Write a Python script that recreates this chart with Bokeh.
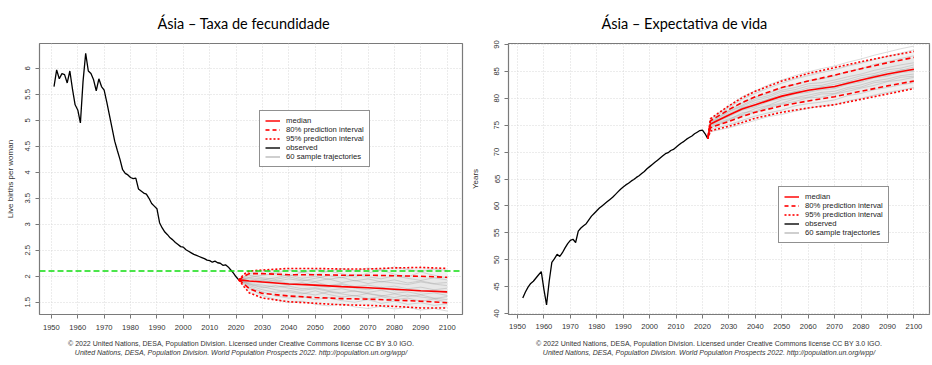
from bokeh.plotting import figure
from bokeh.models import (Range1d, FixedTicker, NumeralTickFormatter, Title,
                          Legend, LegendItem, Span, Div)
from bokeh.layouts import row, column
from bokeh.embed import file_html
from bokeh.resources import INLINE

NAN = float("nan")

# ---------------- data: left panel (fertility) ----------------
tfr_years = list(range(1951, 2022))
tfr_obs = [5.65, 5.97, 5.80, 5.90, 5.88, 5.72, 5.95, 5.60, 5.30, 5.20,
           4.95, 5.75, 6.29, 5.95, 5.90, 5.78, 5.57, 5.80, 5.65, 5.58,
           5.35, 5.10, 4.85, 4.60, 4.42, 4.25, 4.05, 3.98, 3.95, 3.90,
           3.88, 3.89, 3.68, 3.64, 3.60, 3.58, 3.50, 3.40, 3.35, 3.30,
           3.03, 2.93, 2.85, 2.80, 2.74, 2.70, 2.65, 2.61, 2.57, 2.56,
           2.51, 2.48, 2.45, 2.42, 2.40, 2.38, 2.36, 2.34, 2.31, 2.30,
           2.27, 2.29, 2.26, 2.25, 2.21, 2.22, 2.18, 2.12, 2.06, 1.99,
           1.93]
tfr_proj_years = [2021, 2023, 2025, 2030, 2040, 2050, 2060, 2070, 2080, 2090, 2100]
tfr_median = [1.93, 1.92, 1.91, 1.89, 1.85, 1.83, 1.80, 1.78, 1.75, 1.72, 1.70]
tfr_u80 = [1.93, 2.00, 2.05, 2.05, 2.03, 2.03, 2.02, 2.02, 2.01, 2.00, 1.98]
tfr_l80 = [1.93, 1.85, 1.76, 1.67, 1.62, 1.59, 1.57, 1.56, 1.54, 1.52, 1.49]
tfr_u95 = [1.93, 2.04, 2.10, 2.12, 2.15, 2.15, 2.14, 2.14, 2.16, 2.17, 2.15]
tfr_l95 = [1.93, 1.80, 1.68, 1.58, 1.51, 1.48, 1.45, 1.44, 1.42, 1.39, 1.39]
tfr_replacement = 2.1
tfr_traj_years = [2021, 2025, 2030, 2035, 2040, 2045, 2050, 2055, 2060,
                  2065, 2070, 2075, 2080, 2085, 2090, 2095, 2100]
tfr_traj = [
    [1.93, 1.98, 2.02, 2.05, 2.00, 2.08, 2.03, 2.10, 2.05, 1.98, 2.06, 2.12, 2.04, 1.99, 2.08, 2.02, 1.97],
    [1.93, 1.85, 1.80, 1.74, 1.70, 1.66, 1.72, 1.65, 1.60, 1.63, 1.57, 1.61, 1.55, 1.58, 1.52, 1.56, 1.50],
    [1.93, 1.90, 1.88, 1.92, 1.86, 1.84, 1.89, 1.82, 1.86, 1.80, 1.83, 1.78, 1.81, 1.76, 1.79, 1.74, 1.77],
    [1.93, 2.02, 1.97, 1.94, 1.99, 1.93, 1.90, 1.95, 1.88, 1.92, 1.86, 1.90, 1.87, 1.84, 1.89, 1.85, 1.82],
    [1.93, 1.82, 1.74, 1.69, 1.73, 1.68, 1.64, 1.70, 1.66, 1.62, 1.67, 1.63, 1.59, 1.64, 1.60, 1.57, 1.61],
    [1.93, 1.95, 1.92, 1.87, 1.83, 1.88, 1.81, 1.79, 1.84, 1.77, 1.74, 1.79, 1.72, 1.75, 1.70, 1.73, 1.68],
    [1.93, 1.88, 1.93, 1.97, 2.03, 1.96, 2.00, 1.94, 1.98, 1.91, 1.95, 1.89, 1.93, 1.87, 1.91, 1.86, 1.88],
    [1.93, 1.79, 1.70, 1.62, 1.58, 1.61, 1.55, 1.59, 1.53, 1.50, 1.55, 1.48, 1.52, 1.46, 1.49, 1.44, 1.47],
    [1.93, 1.97, 1.95, 1.90, 1.95, 1.91, 1.96, 2.01, 1.97, 2.03, 1.99, 1.95, 2.01, 1.96, 1.92, 1.97, 1.93],
    [1.93, 1.86, 1.83, 1.79, 1.81, 1.76, 1.78, 1.73, 1.76, 1.71, 1.69, 1.73, 1.67, 1.70, 1.65, 1.68, 1.63],
    [1.93, 2.05, 2.10, 2.06, 2.12, 2.07, 2.13, 2.09, 2.15, 2.10, 2.16, 2.12, 2.18, 2.13, 2.09, 2.14, 2.11],
    [1.93, 1.84, 1.78, 1.82, 1.77, 1.73, 1.76, 1.71, 1.68, 1.72, 1.66, 1.62, 1.66, 1.61, 1.64, 1.58, 1.55],
    [1.93, 1.76, 1.63, 1.55, 1.49, 1.52, 1.46, 1.43, 1.47, 1.41, 1.38, 1.42, 1.37, 1.40, 1.35, 1.38, 1.33],
]

# ---------------- data: right panel (life expectancy) ----------------
e0_years = list(range(1952, 2023))
e0_obs = [42.9, 44.0, 44.9, 45.6, 46.0, 46.6, 47.2, 47.8, 44.5, 41.6,   # 1952-1961
          46.0, 49.5, 50.2, 51.0, 50.6, 51.3, 52.2, 53.0, 53.6, 53.8,   # 1962-1971
          53.2, 55.3, 55.9, 56.3, 56.7, 57.4, 58.1, 58.6, 59.1, 59.6,   # 1972-1981
          60.0, 60.4, 60.8, 61.2, 61.6, 62.1, 62.6, 63.1, 63.5, 63.9,   # 1982-1991
          64.2, 64.6, 64.9, 65.3, 65.6, 66.0, 66.4, 66.9, 67.3, 67.7,   # 1992-2001
          68.1, 68.5, 68.9, 69.3, 69.7, 69.9, 70.3, 70.5, 70.9, 71.3,   # 2002-2011
          71.7, 72.0, 72.4, 72.7, 73.0, 73.4, 73.7, 74.0, 74.1, 73.4,   # 2012-2021
          72.5]                                                          # 2022
e0_proj_years = [2022, 2023, 2025, 2030, 2035, 2040, 2050, 2060, 2070, 2080, 2090, 2100]
e0_median = [72.5, 75.2, 75.7, 76.9, 78.0, 78.8, 80.4, 81.5, 82.2, 83.4, 84.5, 85.4]
e0_u80 = [72.5, 75.8, 76.4, 77.9, 79.2, 80.3, 82.0, 83.2, 84.3, 85.5, 86.6, 87.6]
e0_l80 = [72.5, 74.5, 74.9, 75.7, 76.6, 77.4, 78.6, 79.5, 80.3, 81.3, 82.3, 83.2]
e0_u95 = [72.5, 76.2, 76.9, 78.6, 80.1, 81.3, 83.2, 84.6, 85.7, 86.8, 87.8, 88.7]
e0_l95 = [72.5, 73.9, 74.2, 74.8, 75.5, 76.3, 77.4, 78.2, 78.8, 79.8, 80.8, 81.8]
e0_traj_years = [2022, 2023, 2025, 2030, 2035, 2040, 2045, 2050, 2055, 2060,
                 2065, 2070, 2075, 2080, 2085, 2090, 2095, 2100]
e0_traj = [
    [72.5, 75.6, 76.3, 77.8, 79.1, 80.2, 80.9, 81.9, 82.6, 83.3, 83.6, 84.2, 85.0, 85.5, 86.3, 86.8, 87.4, 87.9],
    [72.5, 74.6, 74.9, 75.9, 76.8, 77.4, 78.3, 78.9, 79.4, 80.1, 80.2, 80.8, 81.3, 81.9, 82.4, 83.1, 83.4, 83.9],
    [72.5, 75.1, 75.9, 76.7, 78.3, 78.6, 79.9, 80.2, 81.3, 81.2, 82.1, 82.0, 83.0, 83.2, 84.3, 84.2, 85.3, 85.2],
    [72.5, 75.4, 76.0, 77.5, 78.5, 79.6, 80.2, 81.2, 81.6, 82.3, 82.4, 83.0, 83.5, 84.2, 84.6, 85.3, 85.6, 86.2],
    [72.5, 74.9, 75.3, 76.2, 77.0, 78.1, 78.7, 79.7, 80.1, 80.6, 81.1, 81.3, 82.0, 82.5, 83.2, 83.6, 84.2, 84.5],
    [72.5, 75.9, 76.6, 78.3, 79.8, 80.9, 81.9, 82.8, 83.6, 84.2, 84.8, 85.3, 86.0, 86.5, 87.2, 87.8, 88.4, 89.0],
    [72.5, 74.2, 74.5, 75.1, 75.9, 76.7, 77.3, 77.8, 78.6, 79.0, 79.3, 79.7, 80.5, 80.9, 81.6, 82.0, 82.5, 82.9],
    [72.5, 75.3, 75.8, 77.2, 78.2, 79.2, 79.8, 80.8, 81.2, 81.9, 82.1, 82.6, 83.1, 83.8, 84.2, 84.9, 85.2, 85.8],
    [72.5, 75.0, 75.5, 76.6, 77.8, 78.4, 79.4, 80.0, 80.8, 81.1, 81.6, 81.8, 82.6, 83.0, 83.8, 84.1, 84.8, 85.0],
    [72.5, 75.5, 76.1, 77.6, 78.7, 79.9, 80.5, 81.5, 82.0, 82.7, 82.9, 83.4, 84.0, 84.5, 85.2, 85.7, 86.2, 86.6],
    [72.5, 74.8, 75.1, 76.0, 77.3, 77.6, 78.6, 79.1, 79.9, 80.2, 80.8, 80.9, 81.7, 82.1, 82.9, 83.2, 83.9, 84.1],
    [72.5, 73.8, 74.0, 74.5, 75.2, 75.9, 76.6, 77.0, 77.6, 78.1, 78.6, 78.8, 79.5, 80.0, 80.6, 81.1, 81.5, 82.0],
    [72.5, 76.1, 76.9, 78.6, 80.3, 81.4, 82.5, 83.4, 84.2, 84.9, 85.5, 86.0, 86.7, 87.3, 88.0, 88.6, 89.2, 89.7],
]

x_ticks = list(range(1950, 2101, 10))
tfr_ticks = [1.5, 2, 2.5, 3, 3.5, 4, 4.5, 5, 5.5, 6]
e0_ticks = list(range(40, 91, 5))

titles = ["Ásia – Taxa de fecundidade", "Ásia – Expectativa de vida"]
ylabels = ["Live births per woman", "Years"]
legend_labels = ["median", "80% prediction interval", "95% prediction interval",
                 "observed", "60 sample trajectories"]
footer1 = "© 2022 United Nations, DESA, Population Division. Licensed under Creative Commons license CC BY 3.0 IGO."
footer2 = "United Nations, DESA, Population Division. World Population Prospects 2022. http://population.un.org/wpp/"

SANS = "Liberation Sans"
TITLE_FONT = "Lato"


def make_panel(width, height, xr, yr, borders, yticks, ylabel, title,
               title_offset, yl_standoff, xl_standoff):
    bl, br, bt, bb = borders
    p = figure(width=width, height=height, x_range=Range1d(*xr), y_range=Range1d(*yr),
               output_backend="svg", toolbar_location=None,
               min_border_left=bl, min_border_right=br,
               min_border_top=bt, min_border_bottom=bb)
    p.outline_line_color = "#7a7a7a"
    p.outline_line_width = 1.2
    p.background_fill_color = "white"
    p.border_fill_color = "white"
    for ax in (p.xaxis, p.yaxis):
        ax.axis_line_color = None
        ax.major_tick_out = 4
        ax.major_tick_in = 0
        ax.major_tick_line_color = "#777777"
        ax.minor_tick_line_color = None
        ax.major_label_text_font = SANS
        ax.major_label_text_font_size = "7.6px"
        ax.major_label_text_color = "#333333"
    p.xaxis.ticker = FixedTicker(ticks=x_ticks)
    p.xaxis.major_label_standoff = xl_standoff
    p.yaxis.ticker = FixedTicker(ticks=yticks)
    p.yaxis.formatter = NumeralTickFormatter(format="0.[0]")
    p.yaxis.major_label_orientation = "vertical"
    p.yaxis.major_label_standoff = 5
    p.yaxis.axis_label = ylabel
    p.yaxis.axis_label_text_font = SANS
    p.yaxis.axis_label_text_font_size = "8px"
    p.yaxis.axis_label_text_font_style = "normal"
    p.yaxis.axis_label_text_color = "#333333"
    p.yaxis.axis_label_standoff = yl_standoff
    for g in (p.xgrid, p.ygrid):
        g.grid_line_color = "#d9d9d9"
        g.grid_line_dash = "1 2"
        g.grid_line_width = 1
    p.xgrid.ticker = FixedTicker(ticks=x_ticks)
    p.ygrid.ticker = FixedTicker(ticks=yticks)

    p.add_layout(Title(text=title, align="left", offset=title_offset,
                       text_font=TITLE_FONT, text_font_size="14.5px",
                       text_font_style="normal", text_color="black",
                       standoff=24), "above")
    return p


def footer_div(pad_left):
    html = (f'<div style="font-family:\'Liberation Sans\',Arial,sans-serif;font-size:7px;'
            f'color:#333333;line-height:9px;text-align:center;white-space:nowrap;'
            f'display:block;width:466px;box-sizing:border-box;'
            f'padding-left:{pad_left}px;padding-top:3px;margin:0">'
            f'{footer1}<br><i>{footer2}</i></div>')
    return Div(text=html, width=466, height=29, margin=(0, 0, 0, 0))


def add_cloud(p, px, u80, l80, u95, l95, tx, trajs):
    p.varea(x=px, y1=l95, y2=u95, fill_color="#f0f0f0", fill_alpha=0.9)
    p.varea(x=px, y1=l80, y2=u80, fill_color="#e3e3e3", fill_alpha=0.6)
    for t in trajs:
        p.line(tx, t, line_color="#999999", line_alpha=0.45, line_width=0.8)


def add_main(p, obs_x, obs_y, px, med, u80, l80, u95, l95):
    p.line(obs_x, obs_y, line_color="black", line_width=1.3)
    p.line(px, u95, line_color="red", line_width=1.6, line_dash="2 2")
    p.line(px, l95, line_color="red", line_width=1.6, line_dash="2 2")
    p.line(px, u80, line_color="red", line_width=1.6, line_dash="5 3")
    p.line(px, l80, line_color="red", line_width=1.6, line_dash="5 3")
    p.line(px, med, line_color="red", line_width=1.6)


def add_legend(p, loc):
    r1 = p.line(x=[NAN], y=[NAN], line_color="#ff3030", line_width=1.8)
    r2 = p.line(x=[NAN], y=[NAN], line_color="#ff3030", line_width=1.8, line_dash="4 3")
    r3 = p.line(x=[NAN], y=[NAN], line_color="#ff3030", line_width=1.8, line_dash="2 2")
    r4 = p.line(x=[NAN], y=[NAN], line_color="#505050", line_width=2)
    r5 = p.line(x=[NAN], y=[NAN], line_color="#cfcfcf", line_width=2)
    items = [LegendItem(label=l, renderers=[r]) for l, r in
             zip(legend_labels, [r1, r2, r3, r4, r5])]
    leg = Legend(items=items, location=loc, orientation="vertical",
                 glyph_width=15, glyph_height=9, label_height=9, label_standoff=6,
                 spacing=0, padding=5, margin=0,
                 border_line_color="#222222", border_line_width=1,
                 background_fill_color="white", background_fill_alpha=1,
                 label_text_font=SANS, label_text_font_size="7.7px",
                 label_text_color="#222222")
    p.add_layout(leg)


# ---------------- left panel ----------------
p1 = make_panel(466, 336, (1945.5, 2105.8), (1.264, 6.479), (39, 4, 42, 22),
                tfr_ticks, ylabels[0], titles[0], 118, 8, 6)
add_cloud(p1, tfr_proj_years, tfr_u80, tfr_l80, tfr_u95, tfr_l95, tfr_traj_years, tfr_traj)
p1.add_layout(Span(location=tfr_replacement, dimension="width", line_color="#11dd11",
                   line_width=1.5, line_dash="6 3"))
add_main(p1, tfr_years, tfr_obs, tfr_proj_years, tfr_median, tfr_u80, tfr_l80, tfr_u95, tfr_l95)
add_legend(p1, (220, 147))

# ---------------- right panel ----------------
p2 = make_panel(466, 336, (1946.6, 2105.9), (39.82, 90.18), (42, 3, 42, 20),
                e0_ticks, ylabels[1], titles[1], 93, 12, 5)
add_cloud(p2, e0_proj_years, e0_u80, e0_l80, e0_u95, e0_l95, e0_traj_years, e0_traj)
add_main(p2, e0_years, e0_obs, e0_proj_years, e0_median, e0_u80, e0_l80, e0_u95, e0_l95)
add_legend(p2, (270, 71))

layout = column(row(p1, p2, spacing=0), row(footer_div(16), footer_div(20), spacing=0),
                spacing=0)
open("out.html", "w").write(file_html(layout, INLINE))
